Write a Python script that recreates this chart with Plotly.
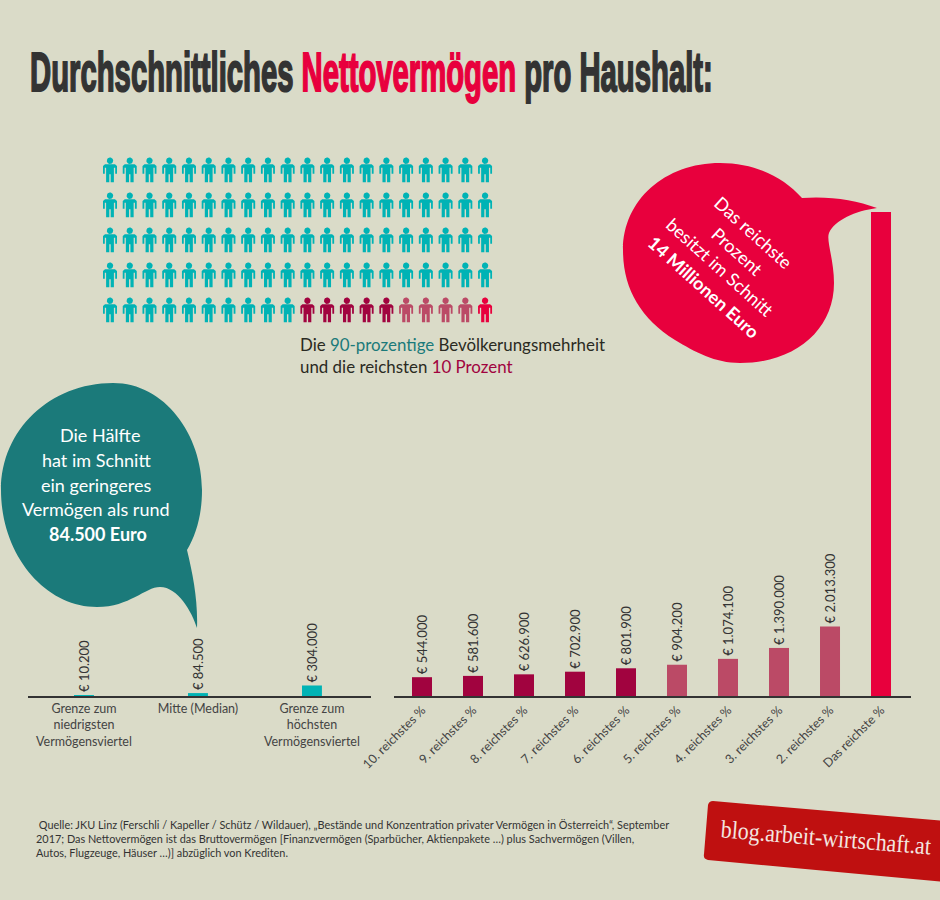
import numpy as np
import plotly.graph_objects as go

# ---------- data ----------
left_categories = ["Grenze zum<br>niedrigsten<br>Vermögensviertel", "Mitte (Median)", "Grenze zum<br>höchsten<br>Vermögensviertel"]
left_values = [10200, 84500, 304000]
right_categories = ["10. reichstes %", "9. reichstes %", "8. reichstes %", "7. reichstes %", "6. reichstes %",
                    "5. reichstes %", "4. reichstes %", "3. reichstes %", "2. reichstes %", "Das reichste %"]
right_values = [544000, 581600, 626900, 702900, 801900, 904200, 1074100, 1390000, 2013300, 14000000]
people_groups = ["90 Prozent", "6.-10. reichstes Prozent", "2.-5. reichstes Prozent", "Das reichste Prozent"]
people_counts = [90, 5, 4, 1]

# ---------- style ----------
BG = "#dadbc8"
TEAL = "#00b3b5"
DARKTEAL = "#1b7a7a"
CRIMSON = "#a1033f"
ROSE = "#bb4a66"
RED = "#e8003d"
INK = "#333333"
FONT = "Lato"

def euro(v):
    return "€ " + f"{v:,}".replace(",", ".")

fig = go.Figure()

fig.add_bar(x=left_categories, y=left_values, xaxis="x", yaxis="y", marker_color=TEAL, marker_line_width=0,
            width=0.175, text=[euro(v) for v in left_values], textposition="outside", textangle=-90,
            constraintext="none", cliponaxis=False, textfont=dict(family=FONT, size=13, color=INK), hoverinfo="skip")
right_colors = [CRIMSON] * 5 + [ROSE] * 4 + [RED]
fig.add_bar(x=right_categories, y=right_values, xaxis="x2", yaxis="y", marker_color=right_colors, marker_line_width=0,
            width=0.392, text=[euro(v) for v in right_values[:-1]] + [""], textposition="outside", textangle=-90,
            constraintext="none", cliponaxis=False, textfont=dict(family=FONT, size=13, color=INK), hoverinfo="skip")

# ---------- pictogram: 100 households on a 20 x 5 grid ----------
COLS, ROWS = 20, 5
X0, DX, Y0, DY = 110.0, 19.74, 160.7, 35.0
theta = np.linspace(0, 2 * np.pi, 20)
head = [(3.2 * c, 3.2 * s) for c, s in zip(np.cos(theta), np.sin(theta))]
body = [(-5, 3.6), (5, 3.6), (7, 5.4), (7, 13), (5.2, 13), (5.2, 7), (3.9, 7), (3.9, 21.5), (0.7, 21.5), (0.7, 13.5),
        (-0.7, 13.5), (-0.7, 21.5), (-3.9, 21.5), (-3.9, 7), (-5.2, 7), (-5.2, 13), (-7, 13), (-7, 5.4)]
group_colors = [TEAL, CRIMSON, ROSE, RED]
idx = 0
for name, count, color in zip(people_groups, people_counts, group_colors):
    xs, ys = [], []
    for i in range(idx, idx + count):
        cx, cy = X0 + DX * (i % COLS), Y0 + DY * (i // COLS)
        for part in (head, body):
            xs += [cx + p[0] for p in part] + [cx + part[0][0], None]
            ys += [cy + p[1] for p in part] + [cy + part[0][1], None]
    idx += count
    fig.add_scatter(x=xs, y=ys, xaxis="x3", yaxis="y3", mode="lines", fill="toself", fillcolor=color,
                    line=dict(width=0, color=color), name=name, hoverinfo="skip")

# ---------- decoration shapes (speech bubbles, badge) ----------
teal_bubble = ("M 113 383 C 165 383 202 435 202 490 C 202 515 196 535 187 550 C 193 575 198 600 197 628 "
               "C 192 612 178 587 160 587 C 145 587 130 607 97 607 C 45 607 1 555 1 490 C 1 430 50 383 113 383 Z")
red_bubble = ("M 720 163 C 755 163 783 177 802 198 C 830 196 855 200 877 208 C 855 211 835 220 829 233 "
              "C 826 240 834 260 834 283 C 834 330 795 363 740 363 C 715 363 695 352 675 340 "
              "C 640 318 623 288 623 250 C 623 200 665 163 720 163 Z")
badge = "M 713 801 L 945 821 L 945 882 L 708 860 Q 703 859 704 854 L 708 805 Q 709 801 713 801 Z"
shapes = [dict(type="path", path=p, xref="x3", yref="y3", fillcolor=c, line_width=0, layer="below")
          for p, c in [(teal_bubble, DARKTEAL), (red_bubble, RED), (badge, "#bf1010")]]

# ---------- text ----------
def note(text, x, y, size=18, color="white", angle=0, xanchor="center", family=FONT, align="center", **kw):
    return dict(text=text, x=x, y=y, xref="x3", yref="y3", showarrow=False, xanchor=xanchor, yanchor="middle",
                textangle=angle, align=align, font=dict(family=family, size=size, color=color, **kw))

annotations = [
    note(f'Durchschnittliches <span style="color:{RED}">Nettovermögen</span> pro Haushalt:',
         371.5, 71, 56, INK, family="Liberation Sans", weight=700),
    note(f'Die <span style="color:{DARKTEAL}">90-prozentige</span> Bevölkerungsmehrheit<br>'
         f'und die reichsten <span style="color:{CRIMSON}">10 Prozent</span>',
         298, 355.5, 16.9, "#2a2a22", xanchor="left", align="left"),
    note("Die Hälfte", 100, 435),
    note("hat im Schnitt", 96, 460),
    note("ein geringeres", 96, 485),
    note("Vermögen als rund", 96, 509),
    note("<b>84.500 Euro</b>", 98, 534),
    note("Das reichste", 753, 232, angle=42),
    note("Prozent", 737, 251, angle=42),
    note("besitzt im Schnitt", 720, 267, angle=42),
    note("<b>14 Millionen Euro</b>", 704, 287, angle=42),
    note(" Quelle: JKU Linz (Ferschli / Kapeller / Schütz / Wildauer), „Bestände und Konzentration privater Vermögen in Österreich“, September<br>"
         "2017; Das Nettovermögen ist das Bruttovermögen [Finanzvermögen (Sparbücher, Aktienpakete …) plus Sachvermögen (Villen,<br>"
         "Autos, Flugzeuge, Häuser …)] abzüglich von Krediten.",
         34, 838, 10.9, INK, xanchor="left", align="left"),
    note("blog.arbeit-wirtschaft.at", 826, 837, 25, "#f3e6e0", angle=4.7, family="Liberation Serif"),
]

axis_common = dict(showgrid=False, zeroline=False, showline=True, linecolor=INK, linewidth=2, ticks="",
                   tickfont=dict(family=FONT, size=12.5, color="#444444"), anchor="y", fixedrange=True)
fig.update_layout(
    width=940, height=900, margin=dict(l=0, r=0, t=0, b=0, autoexpand=False), autosize=False,
    paper_bgcolor=BG, plot_bgcolor="rgba(0,0,0,0)", showlegend=False, barmode="overlay",
    shapes=shapes, annotations=annotations,
    xaxis=dict(domain=[28 / 940, 371 / 940], range=[-0.491, 2.518], type="category", tickangle=0, **axis_common),
    xaxis2=dict(domain=[394 / 940, 911 / 940], range=[-0.549, 9.588], type="category", tickangle=-45, **axis_common),
    yaxis=dict(domain=[204 / 900, 688 / 900], range=[0, 14000000], visible=False, fixedrange=True),
    xaxis3=dict(domain=[0, 1], range=[0, 940], visible=False, anchor="y3", fixedrange=True),
    yaxis3=dict(domain=[0, 1], range=[900, 0], visible=False, anchor="x3", fixedrange=True),
)

# The faces of the title and badge in the reference are condensed ones that are not installed:
# squeeze the real text horizontally to its measured width, and thicken the title strokes.
post = """
document.body.style.margin='0';document.body.style.background='%s';
function squeeze(t,w){
  var b=t.getBBox(),s=w/b.width,c=b.x+b.width/2;
  t.setAttribute('transform','translate('+(c*(1-s))+',0) scale('+s+',1)');
}
document.querySelectorAll('.annotation text').forEach(function(t){
  var c=t.textContent;
  if(c.indexOf('Durchschnittliches')===0){
    squeeze(t,683);
    t.style.strokeWidth='2px';
    t.style.stroke='%s';
    t.querySelectorAll('tspan').forEach(function(s){var f=s.style.fill;if(f){s.style.stroke=f;}});
  }
  if(c.indexOf('blog.')===0){squeeze(t,211);}
});
""" % (BG, INK)
fig.write_html("out.html", config=dict(displayModeBar=False), post_script=post)
